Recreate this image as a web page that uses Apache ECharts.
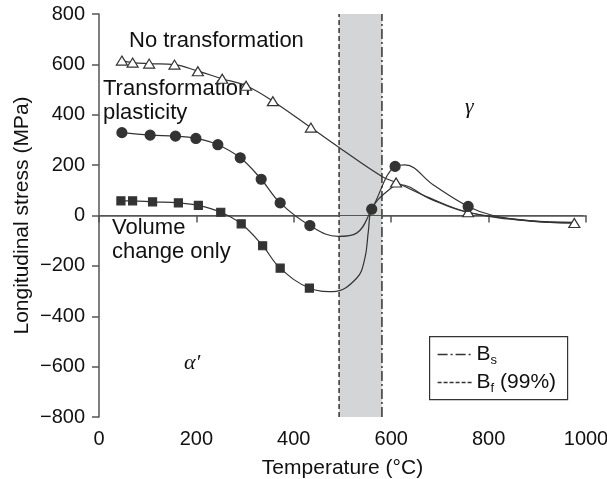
<!DOCTYPE html>
<html>
<head>
<meta charset="utf-8">
<style>
  html, body { margin: 0; padding: 0; background: #fff; }
  #chart { width: 607px; height: 479px; }
</style>
<script src="https://cdn.jsdelivr.net/npm/echarts@6/dist/echarts.min.js"></script>
</head>
<body>
<div id="chart"></div>
<script>
// Longitudinal stress versus temperature for three model assumptions.
// Marked measurements: [temperature °C, stress MPa]
const noTransformationMarks = [[47,615],[69,607],[103,603],[155,599],[203,573],[253,543],[302,515],[357,454],[435,349],[610,131],[758,13],[976,-30]];
// Points read along the drawn curve between markers
const noTransformationPath = [[493,270],[581,155],[680,69],[885,-21]];

const plasticityMarks = [[47,329],[105,319],[157,315],[199,306],[244,281],[290,229],[333,144],[372,50],[433,-40],[560,25],[608,195],[758,36]];
const plasticityPath = [[491,-83],[529,-70],[628,201],[686,122],[809,0],[885,-20],[976,-27]];

const volumeMarks = [[45,58],[69,58],[110,54],[163,50],[204,40],[250,13],[292,-33],[336,-120],[372,-209],[432,-288]];
const volumePath = [[480,-302],[529,-249],[546,-169],[553,-64],[560,25],[591,95],[618,122],[680,66],[758,12],[885,-22],[976,-28]];

// Bainite start / finish temperatures (°C)
const bainiteStart = 581;
const bainiteFinish = 493;
const zeroLineEnd = 995;

const xTicks = { min: 0, max: 1000, step: 200 };
const yTicks = { min: -800, max: 800, step: 200 };

const ink = '#333333';
const font = '"Liberation Sans", Arial, sans-serif';
const serif = '"Liberation Serif", "DejaVu Serif", serif';

function buildCurve(marks, path) {
  const pts = marks.map(p => ({ value: p, marked: true }))
    .concat(path.map(p => ({ value: p, marked: false })));
  pts.sort((a, b) => a.value[0] - b.value[0]);
  return pts.map(p => p.marked ? { value: p.value } : { value: p.value, symbol: 'none' });
}

function curveSeries(name, marks, path, symbol, size, fill) {
  return {
    name: name,
    type: 'line',
    data: buildCurve(marks, path),
    smooth: 0.4,
    symbol: symbol,
    symbolSize: size,
    showAllSymbol: true,
    lineStyle: { color: ink, width: 1.2 },
    itemStyle: { color: fill, borderColor: ink, borderWidth: 1.2 },
    z: 5
  };
}

const minus = v => String(v).replace('-', '\u2212');

const chart = echarts.init(document.getElementById('chart'), null, { renderer: 'canvas' });

const legendRich = {
  b: { fontSize: 21, fontFamily: font, fill: '#111', color: '#111' },
  s: { fontSize: 13, fontFamily: font, fill: '#111', color: '#111', padding: [11, 0, 0, 0] }
};

chart.setOption({
  animation: false,
  backgroundColor: '#fff',
  textStyle: { fontFamily: font },
  grid: { left: 99, right: 21, top: 14, bottom: 62, containLabel: false, outerBoundsMode: 'none' },
  xAxis: {
    type: 'value',
    min: xTicks.min, max: xTicks.max, interval: xTicks.step,
    name: 'Temperature (°C)',
    nameLocation: 'middle',
    nameGap: 41,
    nameTextStyle: { fontSize: 21, color: '#111', fontFamily: font },
    axisLine: { show: true, lineStyle: { color: '#555', width: 1.5 } },
    axisTick: { show: true, length: 7, lineStyle: { color: '#555', width: 1.5 } },
    axisLabel: { fontSize: 20, color: '#111', margin: 12, formatter: minus, fontFamily: font },
    splitLine: { show: false }
  },
  yAxis: {
    type: 'value',
    min: yTicks.min, max: yTicks.max, interval: yTicks.step,
    name: 'Longitudinal stress (MPa)',
    nameLocation: 'middle',
    nameGap: 77,
    nameMoveOverlap: false,
    nameTextStyle: { fontSize: 21, color: '#111', fontFamily: font, verticalAlign: 'middle' },
    axisLine: { show: true, onZero: false, lineStyle: { color: '#555', width: 1.5 } },
    axisTick: { show: true, length: 7, lineStyle: { color: '#555', width: 1.5 } },
    axisLabel: { fontSize: 20, color: '#111', margin: 14, formatter: minus, fontFamily: font },
    splitLine: { show: false }
  },
  series: [
    {
      name: 'Bf (99%)',
      type: 'line',
      data: [[bainiteFinish, yTicks.min], [bainiteFinish, yTicks.max]],
      symbol: 'none',
      lineStyle: { color: ink, width: 1.5, type: [5, 3] },
      markArea: {
        silent: true,
        itemStyle: { color: '#d4d5d7' },
        data: [[{ xAxis: bainiteFinish }, { xAxis: bainiteStart }]]
      },
      z: 3
    },
    {
      name: 'Bs',
      type: 'line',
      data: [[bainiteStart, yTicks.min], [bainiteStart, yTicks.max]],
      symbol: 'none',
      lineStyle: { color: ink, width: 1.5, type: [10, 3, 2, 3] },
      markLine: {
        silent: true,
        symbol: 'none',
        label: { show: false },
        lineStyle: { color: '#555', width: 1.2, type: 'solid' },
        data: [[{ coord: [0, 0] }, { coord: [zeroLineEnd, 0] }]]
      },
      z: 3
    },
    curveSeries('No transformation', noTransformationMarks, noTransformationPath, 'triangle', [11, 9], '#fff'),
    curveSeries('Transformation plasticity', plasticityMarks, plasticityPath, 'circle', 10, ink),
    curveSeries('Volume change only', volumeMarks, volumePath, 'rect', 8, ink)
  ],
  graphic: [
    { type: 'text', left: 129, top: 30, style: { text: 'No transformation', font: '22px ' + font, fill: '#111' } },
    { type: 'text', left: 103, top: 78, style: { text: 'Transformation', font: '22px ' + font, fill: '#111' } },
    { type: 'text', left: 103, top: 102, style: { text: 'plasticity', font: '22px ' + font, fill: '#111' } },
    { type: 'text', left: 112, top: 217, style: { text: 'Volume', font: '22px ' + font, fill: '#111' } },
    { type: 'text', left: 112, top: 241, style: { text: 'change only', font: '22px ' + font, fill: '#111' } },
    { type: 'text', left: 465, top: 96, style: { text: 'γ', font: 'italic 22px ' + serif, fill: '#111' } },
    { type: 'text', left: 184, top: 352, style: { text: 'α′', font: 'italic 22px ' + serif, fill: '#111' } },
    // Legend box for the bainite start / finish lines
    {
      type: 'group', left: 429, top: 336,
      children: [
        { type: 'rect', shape: { x: 0, y: 0, width: 138, height: 63 }, style: { fill: '#fff', stroke: '#333', lineWidth: 1.2 } },
        { type: 'line', shape: { x1: 8, y1: 18, x2: 44, y2: 18 }, style: { stroke: ink, lineWidth: 1.5, lineDash: [10, 3, 2, 3] } },
        { type: 'text', style: { x: 47, y: 18, text: '{b|B}{s|s}', rich: legendRich, verticalAlign: 'middle' } },
        { type: 'line', shape: { x1: 8, y1: 46, x2: 44, y2: 46 }, style: { stroke: ink, lineWidth: 1.5, lineDash: [4, 2] } },
        { type: 'text', style: { x: 47, y: 46, text: '{b|B}{s|f}{b| (99%)}', rich: legendRich, verticalAlign: 'middle' } }
      ]
    }
  ]
});
</script>
</body>
</html>
